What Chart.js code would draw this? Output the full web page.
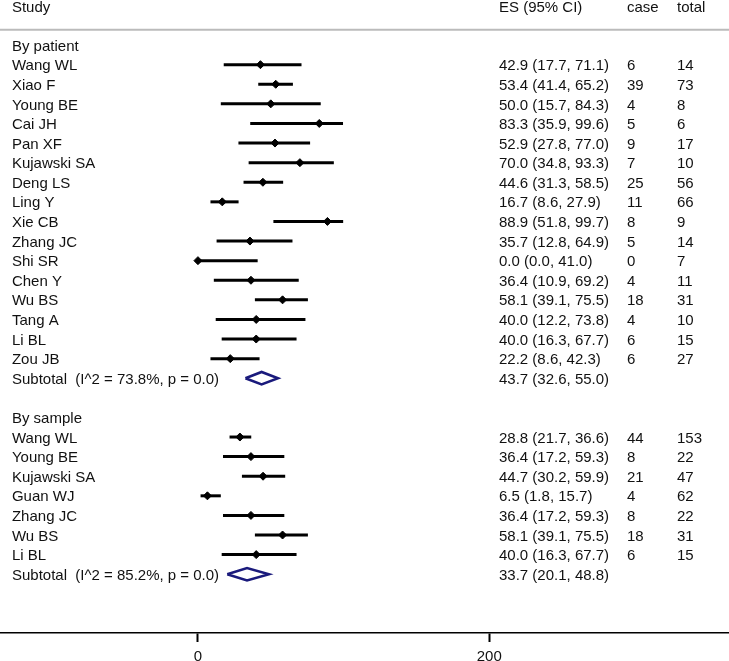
<!DOCTYPE html>
<html lang="en">
<head>
  <meta charset="UTF-8">
  <title>Forest plot</title>
  <style>
    body { margin: 0; background: #fff; }
    #wrap { width: 729px; height: 661px; }
  </style>
  <script src="https://cdn.jsdelivr.net/npm/chart.js"></script>
</head>
<body>
  <div id="wrap"><canvas id="myChart"></canvas></div>

  <script>
    // Group 1: by patient
    const patientStudies = ['Wang WL', 'Xiao F', 'Young BE', 'Cai JH', 'Pan XF', 'Kujawski SA', 'Deng LS', 'Ling Y',
      'Xie CB', 'Zhang JC', 'Shi SR', 'Chen Y', 'Wu BS', 'Tang A', 'Li BL', 'Zou JB'];
    const patientES = [42.9, 53.4, 50.0, 83.3, 52.9, 70.0, 44.6, 16.7, 88.9, 35.7, 0.0, 36.4, 58.1, 40.0, 40.0, 22.2];
    const patientLo = [17.7, 41.4, 15.7, 35.9, 27.8, 34.8, 31.3, 8.6, 51.8, 12.8, 0.0, 10.9, 39.1, 12.2, 16.3, 8.6];
    const patientHi = [71.1, 65.2, 84.3, 99.6, 77.0, 93.3, 58.5, 27.9, 99.7, 64.9, 41.0, 69.2, 75.5, 73.8, 67.7, 42.3];
    const patientCase = [6, 39, 4, 5, 9, 7, 25, 11, 8, 5, 0, 4, 18, 4, 6, 6];
    const patientTotal = [14, 73, 8, 6, 17, 10, 56, 66, 9, 14, 7, 11, 31, 10, 15, 27];
    const patientSubtotal = { label: 'Subtotal  (I^2 = 73.8%, p = 0.0)', es: 43.7, lo: 32.6, hi: 55.0 };

    // Group 2: by sample
    const sampleStudies = ['Wang WL', 'Young BE', 'Kujawski SA', 'Guan WJ', 'Zhang JC', 'Wu BS', 'Li BL'];
    const sampleES = [28.8, 36.4, 44.7, 6.5, 36.4, 58.1, 40.0];
    const sampleLo = [21.7, 17.2, 30.2, 1.8, 17.2, 39.1, 16.3];
    const sampleHi = [36.6, 59.3, 59.9, 15.7, 59.3, 75.5, 67.7];
    const sampleCase = [44, 8, 21, 4, 8, 18, 6];
    const sampleTotal = [153, 22, 47, 62, 22, 31, 15];
    const sampleSubtotal = { label: 'Subtotal  (I^2 = 85.2%, p = 0.0)', es: 33.7, lo: 20.1, hi: 48.8 };

    const xTicks = [0, 200];

    // x range and text column anchors (in data units)
    const X_MIN = -135.9, X_MAX = 364.6;
    const COL_NAME = -127.7, COL_ES = 206.7, COL_CASE = 294.5, COL_TOTAL = 328.9;
    const FONT = '"Liberation Sans", Arial, sans-serif';

    const fmt = v => v.toFixed(1);

    // build rows: each row has a y index
    const rows = [];   // text rows
    const studyRows = [];
    const diamondRows = [];
    let r = 0;
    function addGroup(title, names, es, lo, hi, cs, tot, sub) {
      rows.push({ y: r++, name: title });
      names.forEach((n, i) => {
        const row = { y: r++, name: n, es: es[i], lo: lo[i], hi: hi[i], cs: cs[i], tot: tot[i] };
        rows.push(row);
        studyRows.push(row);
      });
      const srow = { y: r++, name: sub.label, es: sub.es, lo: sub.lo, hi: sub.hi, sub: true };
      rows.push(srow);
      diamondRows.push(srow);
      r++; // blank line
    }
    addGroup('By patient', patientStudies, patientES, patientLo, patientHi, patientCase, patientTotal, patientSubtotal);
    addGroup('By sample', sampleStudies, sampleES, sampleLo, sampleHi, sampleCase, sampleTotal, sampleSubtotal);

    const datasets = [];

    // header rule
    datasets.push({
      type: 'line', data: [{ x: X_MIN, y: -0.78 }, { x: X_MAX, y: -0.78 }],
      borderColor: '#bbbbbb', borderWidth: 2, pointRadius: 0
    });

    // confidence interval lines
    studyRows.forEach(s => {
      datasets.push({
        type: 'line', data: [{ x: s.lo, y: s.y }, { x: s.hi, y: s.y }],
        borderColor: '#000', borderWidth: 3, pointRadius: 0
      });
    });

    // point estimates
    datasets.push({
      type: 'scatter', data: studyRows.map(s => ({ x: s.es, y: s.y })),
      pointStyle: 'rectRot', pointRadius: 4, backgroundColor: '#000', borderColor: '#000', borderWidth: 1
    });

    // subtotal diamonds
    diamondRows.forEach(d => {
      datasets.push({
        type: 'line',
        data: [{ x: d.lo, y: d.y }, { x: d.es, y: d.y - 0.32 }, { x: d.hi, y: d.y }, { x: d.es, y: d.y + 0.32 }, { x: d.lo, y: d.y }],
        borderColor: '#1a1a7c', borderWidth: 2.5, pointRadius: 0, tension: 0
      });
    });

    const textPlugin = {
      id: 'forestText',
      afterDatasetsDraw(chart) {
        const ctx = chart.ctx;
        const xs = chart.scales.x, ys = chart.scales.y;
        const dy = 1.5; // nudge text to sit on the row centre
        ctx.save();
        ctx.fillStyle = '#111';
        ctx.textBaseline = 'middle';
        ctx.textAlign = 'left';
        ctx.font = '15px ' + FONT;
        const hy = ys.getPixelForValue(-2) + dy;
        ctx.fillText('Study', xs.getPixelForValue(COL_NAME), hy);
        ctx.fillText('ES (95% CI)', xs.getPixelForValue(COL_ES), hy);
        ctx.fillText('case', xs.getPixelForValue(COL_CASE), hy);
        ctx.fillText('total', xs.getPixelForValue(COL_TOTAL), hy);
        rows.forEach(row => {
          const y = ys.getPixelForValue(row.y) + dy;
          ctx.fillText(row.name, xs.getPixelForValue(COL_NAME), y);
          if (row.es !== undefined) {
            ctx.fillText(fmt(row.es) + ' (' + fmt(row.lo) + ', ' + fmt(row.hi) + ')', xs.getPixelForValue(COL_ES), y);
          }
          if (row.cs !== undefined) {
            ctx.fillText(String(row.cs), xs.getPixelForValue(COL_CASE), y);
            ctx.fillText(String(row.tot), xs.getPixelForValue(COL_TOTAL), y);
          }
        });
        ctx.restore();
      }
    };

    new Chart(document.getElementById('myChart'), {
      type: 'scatter',
      data: { datasets: datasets },
      options: {
        responsive: true,
        maintainAspectRatio: false,
        animation: false,
        layout: { padding: 0, autoPadding: false },
        plugins: { legend: { display: false }, tooltip: { enabled: false } },
        scales: {
          x: {
            type: 'linear', min: X_MIN, max: X_MAX,
            afterBuildTicks: axis => { axis.ticks = xTicks.map(v => ({ value: v })); },
            afterFit: axis => { axis.height = 28; },
            grid: { drawOnChartArea: false, tickLength: 9, tickColor: '#000', tickWidth: 2 },
            border: { color: '#000', width: 1.5 },
            ticks: { color: '#111', font: { size: 15, family: FONT }, padding: 6, maxRotation: 0 }
          },
          y: {
            type: 'linear', reverse: true, min: -2.3, max: 30, display: false
          }
        }
      },
      plugins: [textPlugin]
    });
  </script>
</body>
</html>
